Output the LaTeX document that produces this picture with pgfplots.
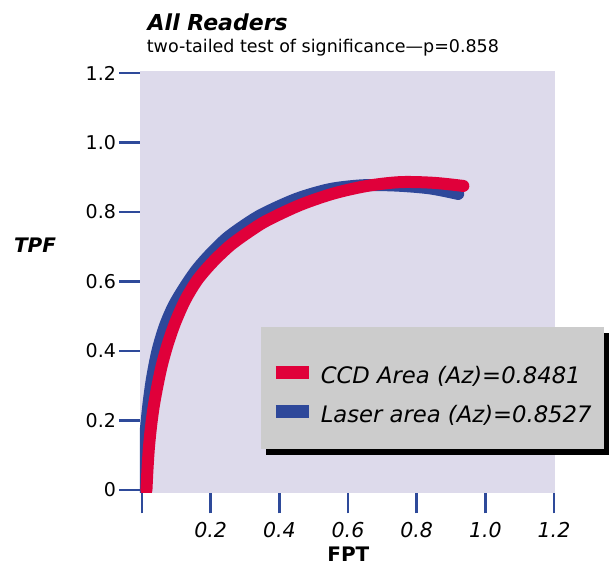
\documentclass[border=0pt]{standalone}
\usepackage{fontspec}
\setmainfont{DejaVu Sans}
\usepackage{pgfplots}
\pgfplotsset{compat=1.18}
\usetikzlibrary{shadows}
\definecolor{bgc}{HTML}{DDDAEB}
\definecolor{tickblue}{HTML}{2E4A9A}
\definecolor{cred}{HTML}{E0003A}
\definecolor{cblue}{HTML}{2E489A}
\definecolor{lgray}{HTML}{CCCCCC}
\begin{document}
\begin{tikzpicture}
\path[use as bounding box] (-140pt,-74pt) rectangle (474pt,493pt);
\begin{axis}[
  at={(0pt,0pt)}, anchor=south west,
  scale only axis, width=415pt, height=422pt,
  xmin=-0.0058, xmax=1.2029, ymin=-0.0086, ymax=1.2058,
  axis background/.style={fill=bgc},
  axis line style={draw=none},
  xtick={0,0.2,0.4,0.6,0.8,1.0,1.2},
  ytick={0,0.2,0.4,0.6,0.8,1.0,1.2},
  xticklabels={,0.2,0.4,0.6,0.8,1.0,1.2},
  yticklabels={0,0.2,0.4,0.6,0.8,1.0,1.2},
  xtick pos=left, ytick pos=left,
  tick align=outside, major tick length=20.5pt,
  tick style={draw=tickblue, line width=2.8pt, line cap=butt},
  yticklabel style={font=\fontsize{19}{22}\selectfont},
  xticklabel style={font=\itshape\fontsize{20.5}{24}\selectfont, yshift=-5pt},
  /pgf/number format/assume math mode=true,
  clip mode=individual,
  reverse legend,
  legend style={draw=none, fill=none, at={(rel axis cs:0.311,0.232)}, anchor=west,
    font=\itshape\fontsize{22.7}{26}\selectfont, row sep=19.5pt, inner sep=0pt,
    nodes={inner xsep=5.5pt, inner ysep=0pt}},
  legend cell align=left,
  legend image code/.code={\draw[#1, line width=13pt, line cap=butt] (0pt,0.34em) -- (33pt,0.34em);},
]
\fill[lgray, drop shadow={shadow xshift=5pt, shadow yshift=-6pt, fill=black, opacity=1}]
  (rel axis cs:0.2916,0.1043) rectangle (rel axis cs:1.118,0.3934);
\addplot[cblue, line width=12pt, line cap=round, smooth] coordinates {
(0.000,0.000) (0.004,0.080) (0.010,0.160) (0.018,0.240) (0.029,0.320) (0.045,0.400)
(0.066,0.470) (0.092,0.530) (0.125,0.585) (0.160,0.635) (0.200,0.680) (0.247,0.725)
(0.300,0.763) (0.353,0.795) (0.450,0.838) (0.548,0.866) (0.645,0.877) (0.742,0.876)
(0.839,0.868) (0.921,0.852)};
\addlegendentry{Laser area (Az)=0.8527}
\addplot[cred, line width=12pt, line cap=round, smooth] coordinates {
(0.013,0.000) (0.016,0.060) (0.020,0.120) (0.026,0.180) (0.034,0.240) (0.045,0.300)
(0.058,0.360) (0.075,0.420) (0.096,0.480) (0.125,0.545) (0.161,0.604) (0.205,0.655)
(0.256,0.703) (0.310,0.742) (0.363,0.775) (0.460,0.820) (0.557,0.853) (0.655,0.875)
(0.752,0.886) (0.849,0.884) (0.936,0.875)};
\addlegendentry{CCD Area (Az)=0.8481}
\node[anchor=base west, font=\bfseries\itshape\fontsize{22}{26}\selectfont] at (rel axis cs:0.010,1.0948) {All Readers};
\node[anchor=base west, font=\fontsize{17.5}{20}\selectfont] at (rel axis cs:0.008,1.0427) {two-tailed test of significance—p=0.858};
\node[font=\bfseries\itshape\fontsize{20}{24}\selectfont] at (rel axis cs:-0.253,0.588) {TPF};
\node[font=\bfseries\fontsize{20}{24}\selectfont, inner sep=0pt] at (rel axis cs:0.502,-0.146) {FPT};
\end{axis}
\end{tikzpicture}
\end{document}
